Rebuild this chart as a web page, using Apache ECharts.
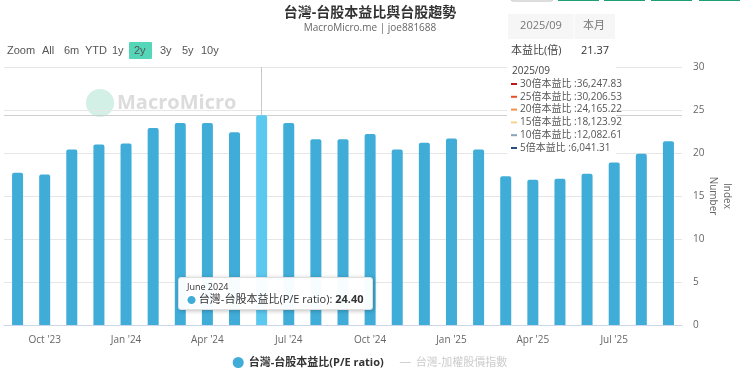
<!DOCTYPE html>
<html>
<head>
<meta charset="utf-8">
<script src="https://cdn.jsdelivr.net/npm/echarts@6/dist/echarts.min.js"></script>
<style>
html,body{margin:0;padding:0;background:#fff;}
#chart{width:740px;height:375px;}
</style>
</head>
<body>
<div id="chart"></div>
<script>
// ---- data ----
const categories = ["Sep '23","Oct '23","Nov '23","Dec '23","Jan '24","Feb '24","Mar '24","Apr '24","May '24","Jun '24","Jul '24","Aug '24","Sep '24","Oct '24","Nov '24","Dec '24","Jan '25","Feb '25","Mar '25","Apr '25","May '25","Jun '25","Jul '25","Aug '25","Sep '25"];
const tooltipTitles = ["September 2023","October 2023","November 2023","December 2023","January 2024","February 2024","March 2024","April 2024","May 2024","June 2024","July 2024","August 2024","September 2024","October 2024","November 2024","December 2024","January 2025","February 2025","March 2025","April 2025","May 2025","June 2025","July 2025","August 2025","September 2025"];
const peValues = [17.7,17.5,20.4,21.0,21.1,22.9,23.5,23.5,22.4,24.40,23.5,21.6,21.6,22.2,20.4,21.2,21.7,20.4,17.3,16.9,17.0,17.6,18.9,19.9,21.37];
const yTicks = [0,5,10,15,20,25,30];
const seriesNames = ['台灣-台股本益比(P/E ratio)','台灣-加權股價指數'];
const indexValues = [];
const highlightIndex = 9;
const tableDate = '2025/09';
const tableCol = '本月';
const tableRowName = '本益比(倍)';
const tableRowValue = '21.37';
const levelNames = ['30倍本益比','25倍本益比','20倍本益比','15倍本益比','10倍本益比','5倍本益比'];
const levelValues = ['36,247.83','30,206.53','24,165.22','18,123.92','12,082.61','6,041.31'];
const levelColors = ['#c0161c','#e8502a','#f2924a','#f6d38a','#8aa3bd','#2b4e7e'];
const rangeButtons = ['Zoom','All','6m','YTD','1y','2y','3y','5y','10y'];
const rangeX = [7,42,64,85,112,134,160,182,201];

const FONT = '"Open Sans","Noto Sans CJK TC",sans-serif';
const BTNFONT = '"Liberation Sans",Arial,sans-serif';
const barColor = '#3fadd8';
const hiColor = '#5bc8f0';

const chart = echarts.init(document.getElementById('chart'), null, {renderer:'canvas'});

const graphics = [];
// top buttons (cut off)
graphics.push({type:'rect', shape:{x:511,y:-4,width:42,height:5,r:2}, style:{fill:'#fff',stroke:'#bbb',lineWidth:1}});
[558,604,651,699].forEach(x=>graphics.push({type:'rect', shape:{x:x,y:-3,width:41,height:4}, style:{fill:'#1f9e78'}}));
// range buttons
rangeButtons.forEach((t,i)=>{
  if (t==='2y') graphics.push({type:'rect', shape:{x:129,y:42,width:23,height:17,r:1}, style:{fill:'#55d6b8'}});
  graphics.push({type:'text', x:rangeX[i], y:51, style:{text:t, fill:'#555', font:'11px '+BTNFONT, verticalAlign:'middle'}});
});
// watermark
graphics.push({type:'circle', z:-10, shape:{cx:100,cy:103,r:14}, style:{fill:'#d3f0e7'}});
graphics.push({type:'text', z:-10, x:117, y:103, style:{text:'MacroMicro', fill:'#dcdcdc', font:'bold 20px '+FONT, verticalAlign:'middle'}});
// table
graphics.push({type:'rect', shape:{x:508,y:14,width:107,height:25}, style:{fill:'#f6f6f6'}});
graphics.push({type:'line', shape:{x1:574,y1:14,x2:574,y2:39}, style:{stroke:'#fff',lineWidth:1}});
graphics.push({type:'text', x:541, y:26, style:{text:tableDate, fill:'#777', font:'11px '+FONT, align:'center', verticalAlign:'middle'}});
graphics.push({type:'text', x:594, y:26, style:{text:tableCol, fill:'#777', font:'11px '+FONT, align:'center', verticalAlign:'middle'}});
graphics.push({type:'text', x:511, y:51, style:{text:tableRowName, fill:'#444', font:'11px '+FONT, verticalAlign:'middle'}});
graphics.push({type:'text', x:609, y:51, style:{text:tableRowValue, fill:'#333', font:'11px '+FONT, align:'right', verticalAlign:'middle'}});
// levels box
graphics.push({type:'rect', z:50, shape:{x:507,y:61,width:109,height:96}, style:{fill:'#fff'}});
graphics.push({type:'text', z:51, x:512, y:71, style:{text:tableDate, fill:'#444', font:'10px '+FONT, verticalAlign:'middle'}});
levelNames.forEach((n,i)=>{
  const y = 84 + i*12.8;
  graphics.push({type:'line', z:51, shape:{x1:511,y1:y,x2:517,y2:y}, style:{stroke:levelColors[i],lineWidth:2}});
  graphics.push({type:'text', z:51, x:520, y:y, style:{text:n+' :'+levelValues[i], fill:'#555', font:'10px '+FONT, verticalAlign:'middle'}});
});

const option = {
  animation:false,
  textStyle:{fontFamily:FONT},
  title:{
    text:'台灣-台股本益比與台股趨勢', subtext:'MacroMicro.me | joe881688',
    left:'center', top:1, itemGap:3,
    textStyle:{fontSize:14, fontWeight:'bold', color:'#333', fontFamily:FONT},
    subtextStyle:{fontSize:10, color:'#666', fontFamily:FONT}
  },
  grid:{left:4, right:57, top:67, bottom:50, containLabel:false},
  legend:{
    bottom:2, left:'center', itemGap:16, itemWidth:11, itemHeight:11,
    inactiveColor:'#ccc',
    textStyle:{fontSize:11, fontWeight:'bold', color:'#333', fontFamily:FONT},
    data:[{name:seriesNames[0], icon:'circle'},{name:seriesNames[1], icon:'path://M0,0L12,0L12,1L0,1Z', textStyle:{fontWeight:'normal'}}],
    selected:{[seriesNames[1]]:false}
  },
  tooltip:{
    trigger:'axis', triggerOn:'none', alwaysShowContent:true,
    position:[178,277],
    backgroundColor:'rgba(255,255,255,0.96)', borderColor:'#e0e0e0', borderWidth:1, borderRadius:3,
    padding:[3,8],
    extraCssText:'box-shadow:1px 1px 4px rgba(0,0,0,0.25);',
    axisPointer:{type:'line', z:1, lineStyle:{color:'#c8c8c8', width:1, type:'solid'}},
    formatter:function(params){
      const p = params[0];
      const ff = FONT.replace(/"/g,"'");
      return '<div style="font-size:9px;color:#333;line-height:11px;font-family:'+ff+'">'+tooltipTitles[p.dataIndex]+'</div>'+
        '<div style="font-size:11px;color:#333;line-height:13px;font-family:'+ff+'"><span style="color:'+barColor+';font-size:9px">●</span> '+p.seriesName+': <b>'+peValues[p.dataIndex].toFixed(2)+'</b></div>';
    }
  },
  xAxis:{
    type:'category', data:categories, boundaryGap:true,
    axisLine:{lineStyle:{color:'#ccd6eb'}},
    axisTick:{alignWithLabel:true, length:5, lineStyle:{color:'#ccd6eb'}, interval:function(i){return i%3===1;}},
    axisLabel:{interval:function(i){return i%3===1;}, color:'#666', fontSize:10, margin:10},
    splitLine:{show:false}
  },
  yAxis:[{
    type:'value', position:'right', min:yTicks[0], max:yTicks[yTicks.length-1], interval:yTicks[1]-yTicks[0],
    name:'Number', nameLocation:'middle', nameRotate:-90, nameGap:26, nameMoveOverlap:false,
    nameTextStyle:{color:'#666', fontSize:10},
    axisLabel:{color:'#666', fontSize:10, margin:11},
    axisLine:{show:false}, axisTick:{show:false},
    splitLine:{lineStyle:{color:'#e6e6e6'}}
  },{
    type:'value', position:'right', min:0, max:1,
    name:'Index', nameLocation:'middle', nameRotate:-90, nameGap:40, nameMoveOverlap:false,
    nameTextStyle:{color:'#666', fontSize:10},
    axisLabel:{show:false}, axisLine:{show:false}, axisTick:{show:false}, splitLine:{show:false}
  }],
  series:[{
    name:seriesNames[0], type:'bar', yAxisIndex:0, barWidth:11, z:5,
    itemStyle:{color:barColor, borderRadius:[2,2,0,0]},
    emphasis:{itemStyle:{color:hiColor}},
    data:peValues.map((v,i)=> i===highlightIndex ? {value:v, itemStyle:{color:hiColor}} : v),
    markLine:{
      silent:true, symbol:'none', label:{show:false}, z:1,
      lineStyle:{color:'#cfcfcf', width:1, type:'solid'},
      data:[{yAxis:peValues[highlightIndex]}]
    }
  },{
    name:seriesNames[1], type:'line', yAxisIndex:1, data:indexValues,
    itemStyle:{color:'#999'}, lineStyle:{color:'#999'}
  }],
  graphic:graphics
};
chart.setOption(option);
chart.dispatchAction({type:'showTip', seriesIndex:0, dataIndex:highlightIndex});
</script>
</body>
</html>
